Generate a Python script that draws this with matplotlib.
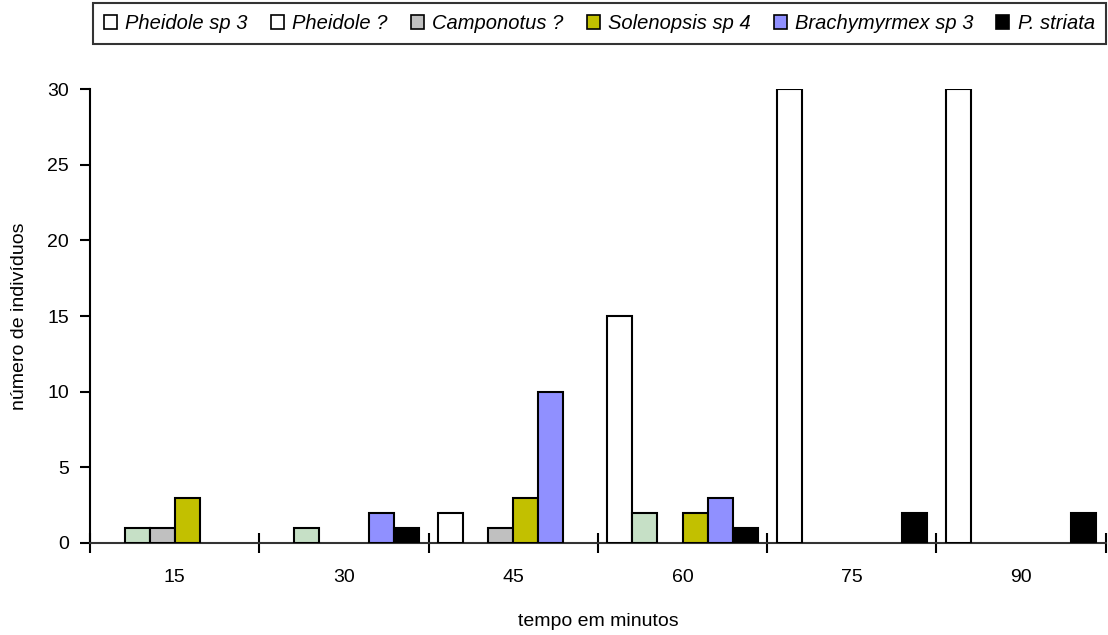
import numpy as np
import matplotlib.pyplot as plt
from matplotlib.patches import Patch

# %% dados
tempos = ["15", "30", "45", "60", "75", "90"]
especies = ["Pheidole sp 3", "Pheidole ?", "Camponotus ?", "Solenopsis sp 4",
            "Brachymyrmex sp 3", "P. striata"]
pheidole_sp3 = [0, 0, 2, 15, 30, 30]
pheidole_q = [1, 1, 0, 2, 0, 0]
camponotus = [1, 0, 1, 0, 0, 0]
solenopsis = [3, 0, 3, 2, 0, 0]
brachymyrmex = [0, 2, 10, 3, 0, 0]
p_striata = [0, 1, 0, 1, 2, 2]
series = [pheidole_sp3, pheidole_q, camponotus, solenopsis, brachymyrmex, p_striata]

cores = ["#ffffff", "#c6e0c6", "#c0c0c0", "#c2c000", "#9090ff", "#000000"]
cores_legenda = ["#ffffff", "#ffffff", "#c0c0c0", "#c2c000", "#9090ff", "#000000"]

# %% figura
plt.rcParams['font.family'] = ['Liberation Sans', 'DejaVu Sans']
fig = plt.figure(figsize=(11.08, 6.35), dpi=100)
ax = fig.add_axes([0.0812, 0.1449, 0.9168, 0.7149])

x = np.arange(len(tempos))
w = 0.148
for i, vals in enumerate(series):
    v = np.array(vals, dtype=float)
    v[v == 0] = np.nan  # zero bars not drawn
    ax.bar(x - 2.5 * w + i * w, v, width=w, color=cores[i],
           edgecolor="black", linewidth=1.5, zorder=3)

ax.set_xlim(-0.5, len(tempos) - 0.5)
ax.set_ylim(0, 30)
ax.set_yticks(range(0, 31, 5))
ax.set_xticks(x)
ax.set_xticklabels(tempos)
ax.set_xticks(np.arange(len(tempos) + 1) - 0.5, minor=True)
ax.tick_params(axis="x", which="major", length=0, pad=19, labelsize=14)
ax.tick_params(axis="x", which="minor", direction="inout", length=14, width=1.5)
ax.tick_params(axis="y", direction="out", length=7, width=1.5, labelsize=14, pad=8)

for s in ["top", "right"]:
    ax.spines[s].set_visible(False)
ax.spines["left"].set_linewidth(1.5)
ax.spines["bottom"].set_linewidth(1.5)
ax.spines["bottom"].set_color("#333333")

ax.set_xlabel("tempo em minutos", fontsize=14, labelpad=19)
ax.set_ylabel("número de indivíduos", fontsize=14, labelpad=14)

handles = [Patch(facecolor=c, edgecolor="black", linewidth=1.2) for c in cores_legenda]
leg = fig.legend(handles, especies, loc="upper center", bbox_to_anchor=(0.541, 0.995),
                 ncol=6, frameon=True, fancybox=False, edgecolor="black",
                 prop={"style": "italic", "size": 14.5}, handlelength=0.65,
                 handleheight=0.65, handletextpad=0.4, columnspacing=1.15,
                 borderpad=0.55, borderaxespad=0)
leg.get_frame().set_linewidth(1.5)

fig.savefig("out.png", dpi=100)
